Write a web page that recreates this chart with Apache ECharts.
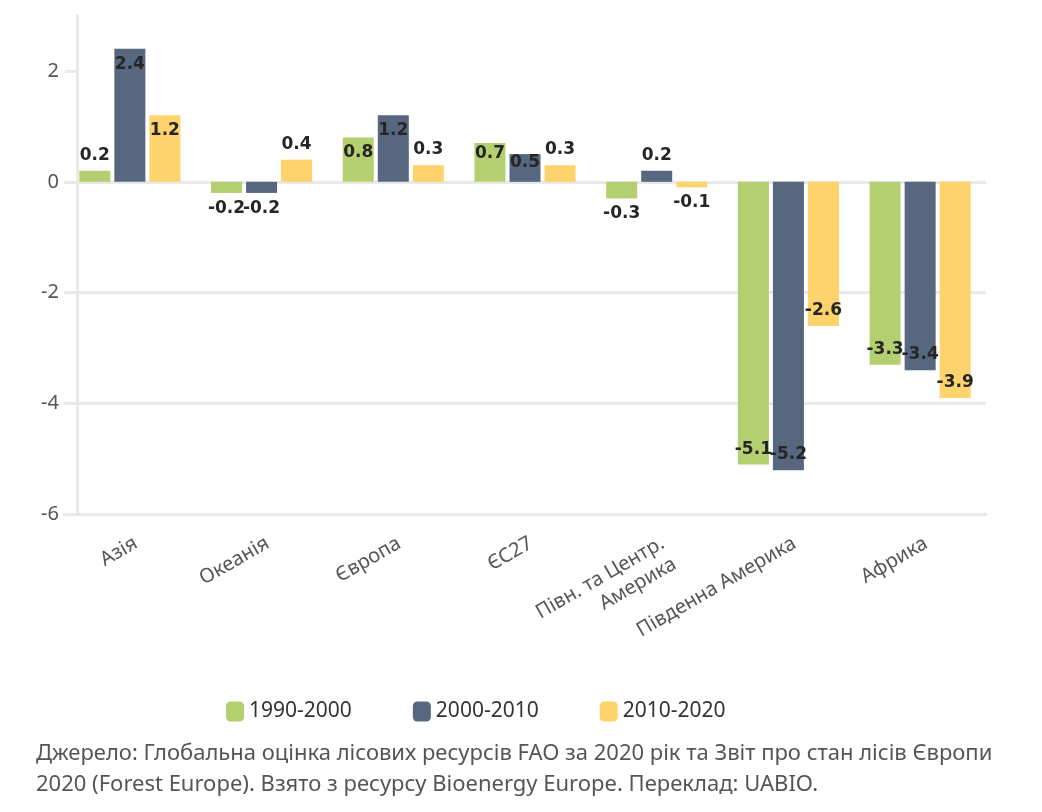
<!DOCTYPE html>
<html>
<head>
<meta charset="utf-8">
<script src="https://cdn.jsdelivr.net/npm/echarts@6/dist/echarts.min.js"></script>
<style>
html,body{margin:0;padding:0;background:#fff;}
#chart{width:1042px;height:812px;}
</style>
</head>
<body>
<div id="chart"></div>
<script>
const categories = ['Азія', 'Океанія', 'Європа', 'ЄС27', 'Півн. та Центр.\nАмерика', 'Південна Америка', 'Африка'];
const seriesNames = ['1990-2000', '2000-2010', '2010-2020'];
const values1990 = [0.2, -0.2, 0.8, 0.7, -0.3, -5.1, -3.3];
const values2000 = [2.4, -0.2, 1.2, 0.5, 0.2, -5.2, -3.4];
const values2010 = [1.2, 0.4, 0.3, 0.3, -0.1, -2.6, -3.9];
const yTicks = [-6, -4, -2, 0, 2];
const sourceText = 'Джерело: Глобальна оцінка лісових ресурсів FAO за 2020 рік та Звіт про стан лісів Європи\n2020 (Forest Europe). Взято з ресурсу Bioenergy Europe. Переклад: UABIO.';

const colors = ['#b4cf6f', '#56677f', '#fed36b'];
const gridColor = '#e9e9e9';

function labelFor(v) {
  const a = Math.abs(v);
  const inside = a >= 0.5;
  let position;
  if (v >= 0) position = inside ? 'insideTop' : 'top';
  else position = inside ? 'insideBottom' : 'bottom';
  let distance = 7;
  if (inside && a < 0.8) distance = a < 0.6 ? 0 : 2;
  return { position: position, distance: distance };
}

function makeSeries(name, vals, color) {
  return {
    name: name,
    type: 'bar',
    barWidth: 31,
    barGap: '13%',
    itemStyle: { color: color },
    label: {
      show: true,
      fontFamily: 'DejaVu Sans',
      fontWeight: 'bold',
      fontSize: 17,
      color: '#262626',
      formatter: p => String(p.value)
    },
    data: vals.map(v => ({ value: v, label: labelFor(v) }))
  };
}

const chart = echarts.init(document.getElementById('chart'), null, { renderer: 'canvas' });
chart.setOption({
  animation: false,
  backgroundColor: '#fff',
  textStyle: { fontFamily: 'Noto Sans' },
  grid: { left: 64, right: 56, top: 15.5, bottom: 297.5, containLabel: false },
  title: {
    text: sourceText,
    left: 36,
    top: 738,
    padding: 0,
    textStyle: { fontFamily: 'Noto Sans', fontSize: 22, fontWeight: 'normal', color: '#555', lineHeight: 31 }
  },
  legend: {
    left: 221,
    top: 696,
    icon: 'roundRect',
    itemWidth: 18,
    itemHeight: 20,
    itemGap: 61,
    textStyle: { fontFamily: 'Noto Sans', fontSize: 21, color: '#333' },
    data: seriesNames
  },
  xAxis: {
    type: 'category',
    data: categories,
    position: 'bottom',
    axisLine: { onZero: false, lineStyle: { color: gridColor, width: 3 } },
    axisTick: { alignWithLabel: true, length: 8, lineStyle: { color: gridColor, width: 2 } },
    axisLabel: {
      rotate: 30,
      interval: 0,
      margin: 17,
      verticalAlign: 'top',
      fontFamily: 'Noto Sans',
      fontSize: 20,
      lineHeight: 24,
      color: '#555'
    },
    splitLine: { show: false }
  },
  yAxis: {
    type: 'value',
    min: -6,
    max: 3,
    interval: 2,
    offset: -13,
    axisLine: { show: true, lineStyle: { color: gridColor, width: 3 } },
    axisTick: { show: true, length: 12, customValues: yTicks, lineStyle: { color: gridColor, width: 3 } },
    axisLabel: { customValues: yTicks, margin: 18, fontFamily: 'Noto Sans', fontSize: 20, color: '#555' },
    splitLine: { show: true, showMaxLine: false, lineStyle: { color: gridColor, width: 3 } }
  },
  series: [
    makeSeries(seriesNames[0], values1990, colors[0]),
    makeSeries(seriesNames[1], values2000, colors[1]),
    makeSeries(seriesNames[2], values2010, colors[2])
  ]
});
</script>
</body>
</html>
